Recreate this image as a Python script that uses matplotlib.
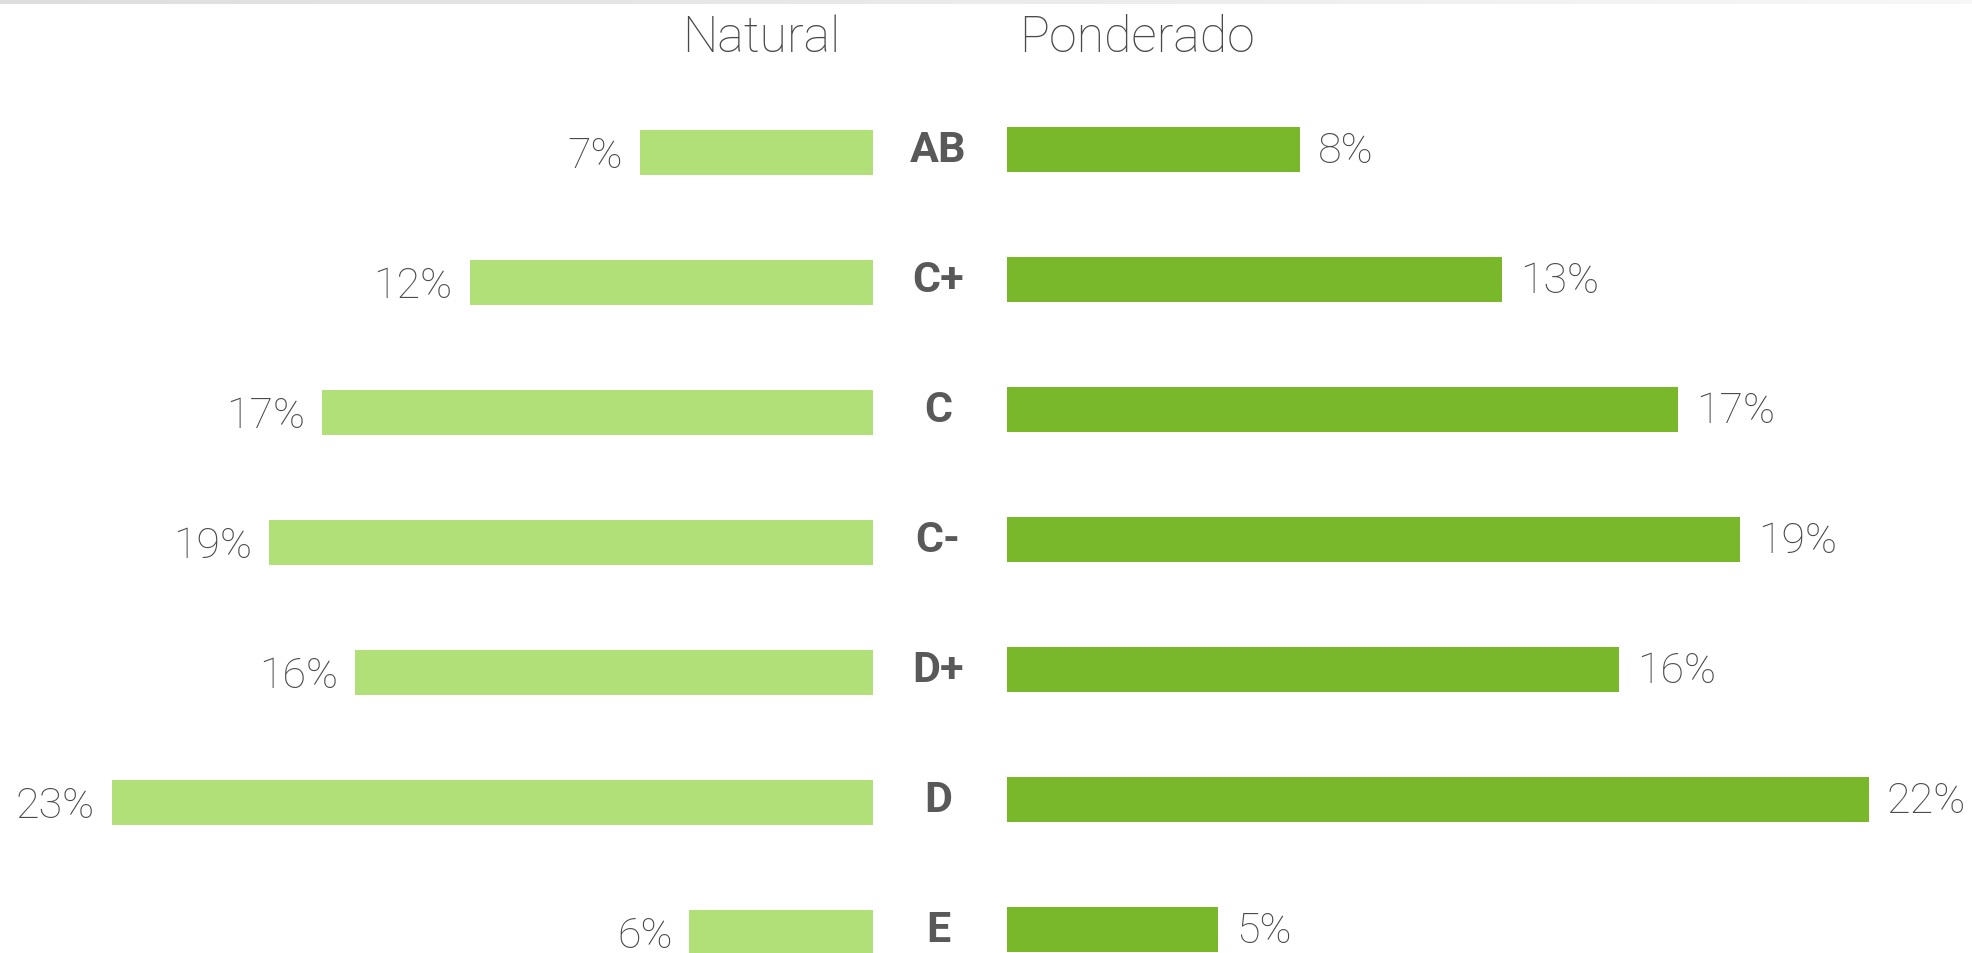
import numpy as np
import matplotlib
matplotlib.use("Agg")
import matplotlib.pyplot as plt
import matplotlib.transforms as mtransforms

# datos
niveles = ['AB', 'C+', 'C', 'C-', 'D+', 'D', 'E']
natural = [7.1, 12.3, 16.8, 18.4, 15.8, 23.2, 5.6]        # largo de barra (%)
ponderado = [7.5, 12.7, 17.2, 18.8, 15.7, 22.1, 5.4]      # largo de barra (%)
natural_txt = ['7%', '12%', '17%', '19%', '16%', '23%', '6%']
ponderado_txt = ['8%', '13%', '17%', '19%', '16%', '22%', '5%']

W, H = 1972, 954
gris = '#595959'
gris_txt = '#4A4A4A'
verde_claro = '#B0E077'
verde = '#78B82A'

plt.rcParams['font.family'] = ['Roboto', 'DejaVu Sans']

fig = plt.figure(figsize=(W / 100, H / 100), dpi=100)

# franja gris arriba
axg = fig.add_axes([0, 1 - 5 / H, 1, 5 / H])
grad = np.linspace(0, 1, 256).reshape(1, -1)
axg.imshow(grad, aspect='auto', cmap=matplotlib.colors.LinearSegmentedColormap.from_list('g', ['#DEDEDE', '#F7F7F7']))
axg.axis('off')

y = np.arange(len(niveles))
paso = 130.0        # pixeles entre barras
alto = 45.5 / paso

# eje izquierdo (Natural), invertido
ax1 = fig.add_axes([0, 0, 873 / W, 1])
ax1.barh(y, natural, height=alto, color=verde_claro)
ax1.set_xlim(873 / 32.8, 0)
ax1.set_ylim((H - 153.5) / paso, -153.5 / paso)
ax1.axis('off')

# eje derecho (Ponderado)
ax2 = fig.add_axes([1007 / W, 0, (W - 1007) / W, 1])
ax2.barh(y, ponderado, height=alto, color=verde)
ax2.set_xlim(0, (W - 1007) / 39.0)
ax2.set_ylim((H - 150.5) / paso, -150.5 / paso)
ax2.axis('off')

for i in range(len(niveles)):
    ax1.annotate(natural_txt[i], (natural[i], y[i]), xytext=(-12.2, -2), textcoords='offset points',
                 ha='right', va='center', fontsize=31, fontweight='light', color=gris_txt)
    ax2.annotate(ponderado_txt[i], (ponderado[i], y[i]), xytext=(13, -1), textcoords='offset points',
                 ha='left', va='center', fontsize=31, fontweight='light', color=gris_txt)

# etiquetas de nivel al centro
tr = mtransforms.blended_transform_factory(fig.transFigure, ax2.transData)
for i, n in enumerate(niveles):
    fig.text(938 / W, y[i], n, transform=tr, ha='center', va='center',
             fontsize=31, fontweight='bold', color=gris)

# titulos
fig.text(840 / W, 1 - 52 / H, 'Natural', ha='right', va='baseline', fontsize=36, fontweight='light', color=gris_txt)
fig.text(1019 / W, 1 - 52 / H, 'Ponderado', ha='left', va='baseline', fontsize=36, fontweight='light', color=gris_txt)

plt.savefig('out.png', dpi=100)
